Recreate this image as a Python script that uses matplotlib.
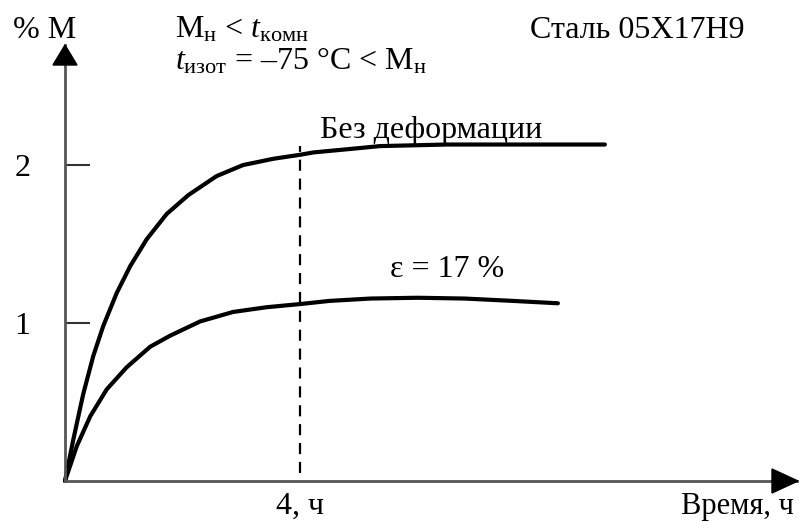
import matplotlib
matplotlib.use("Agg")
import matplotlib.pyplot as plt

plt.rcParams['font.family'] = ['Liberation Serif', 'DejaVu Serif']
plt.rcParams['mathtext.fontset'] = 'custom'
plt.rcParams['mathtext.rm'] = 'Liberation Serif'
plt.rcParams['mathtext.it'] = 'Liberation Serif:italic'

# Data (time in hours, % martensite)
t_nodef = [0, 0.14, 0.31, 0.48, 0.65, 0.88, 1.11, 1.39, 1.73, 2.10, 2.58, 3.03, 3.55,
           4.0, 4.23, 4.8, 5.36, 6.5, 7.63, 9.19]
m_nodef = [0, 0.26, 0.55, 0.79, 0.98, 1.19, 1.36, 1.53, 1.69, 1.81, 1.93, 2.00, 2.04,
           2.065, 2.08, 2.10, 2.12, 2.13, 2.13, 2.13]
t_def = [0, 0.20, 0.43, 0.71, 1.05, 1.45, 1.79, 2.30, 2.86, 3.43, 4.0, 4.5,
         5.2, 6.0, 6.8, 7.63, 8.39]
m_def = [0, 0.22, 0.41, 0.58, 0.72, 0.85, 0.92, 1.01, 1.07, 1.10, 1.12, 1.14,
         1.155, 1.16, 1.155, 1.14, 1.125]
yticks = [1, 2]
ytick_labels = ['1', '2']
t_mark = 4
x_label_mark = '4, ч'

W, H = 799, 522
fig = plt.figure(figsize=(W / 100, H / 100), dpi=100)
ax = fig.add_axes([65 / W, 41 / H, 732 / W, 436 / H])
xmax = 12.46
ymax = 2.76
ax.set_xlim(0, xmax)
ax.set_ylim(0, ymax)

for s in ['top', 'right']:
    ax.spines[s].set_visible(False)
for s in ['left', 'bottom']:
    ax.spines[s].set_color('#555555')
    ax.spines[s].set_linewidth(2.0)

ax.plot(t_nodef, m_nodef, color='black', lw=3.0, solid_capstyle='round',
        solid_joinstyle='round', clip_on=False)
ax.plot(t_def, m_def, color='black', lw=3.0, solid_capstyle='round',
        solid_joinstyle='round', clip_on=False)

ax.plot([t_mark, t_mark], [0.05, 2.12], color='black', lw=1.6, dashes=(5, 3.5))

ax.set_yticks(yticks)
ax.set_yticklabels(ytick_labels, fontsize=23)
ax.tick_params(axis='y', direction='in', length=18, width=1.5, color='#333333', pad=25)
ax.set_xticks([t_mark])
ax.set_xticklabels([x_label_mark], fontsize=23)
ax.tick_params(axis='x', length=0, pad=8)

# arrow heads
fig.patches.append(plt.Polygon([[53 / W, 1 - 65 / H], [77 / W, 1 - 65 / H], [65 / W, 1 - 45 / H]],
                               closed=True, color='black', transform=fig.transFigure))
fig.patches.append(plt.Polygon([[772 / W, 1 - 469 / H], [772 / W, 1 - 493 / H], [798 / W, 1 - 481 / H]],
                               closed=True, color='black', transform=fig.transFigure))

def ftext(x, y, s, size=23, **kw):
    fig.text(x / W, 1 - y / H, s, fontsize=size, va='baseline', **kw)

ftext(13, 38, '% М')
ftext(175, 38, r'М$_\mathrm{н}$ < $t_\mathrm{комн}$')
ftext(175, 70, r'$t_\mathrm{изот}$ = –75 °C < М$_\mathrm{н}$')
ftext(530, 38, 'Сталь 05Х17Н9')
ftext(320, 138, 'Без деформации')
ftext(390, 277, 'ε = 17 %')
ftext(794, 514, 'Время, ч', size=22, ha='right')

fig.savefig('out.png', dpi=100)
